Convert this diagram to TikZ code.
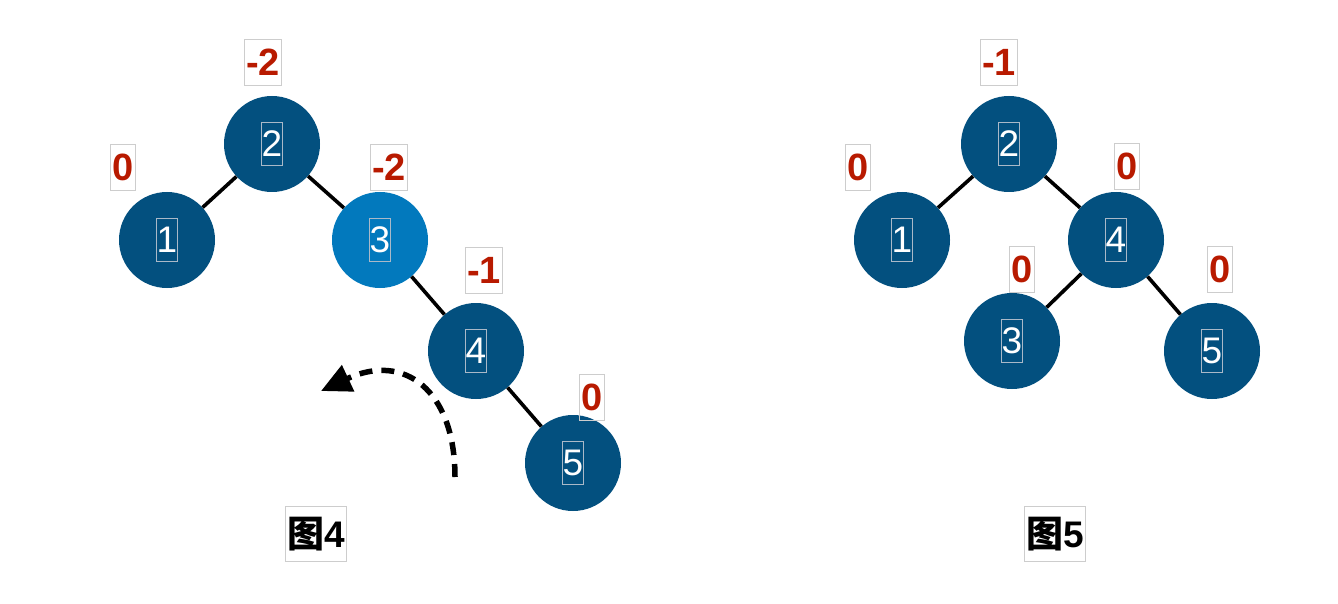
\documentclass[tikz,border=0pt]{standalone}
\usepackage{fontspec}
\setmainfont{Liberation Sans}
\newfontfamily\cjk{Noto Sans CJK SC}
\usetikzlibrary{arrows.meta}
\definecolor{nodeblue}{RGB}{3,80,127}
\definecolor{lightblue}{RGB}{2,121,189}
\definecolor{bfred}{RGB}{184,26,0}
\definecolor{boxgray}{RGB}{205,205,205}
\definecolor{numgray}{RGB}{170,185,200}
\tikzset{
  circ/.style={circle,fill=nodeblue,minimum size=96pt,inner sep=0pt},
  hlcirc/.style={circ,fill=lightblue},
  numbox/.style={draw=numgray,line width=0.8pt,inner sep=0pt,text=white,
    font=\fontsize{37}{44}\selectfont,text height=34pt,text depth=9pt},
  bf/.style={draw=boxgray,line width=1pt,inner xsep=2pt,inner ysep=0pt,text=bfred,
    font=\fontsize{38}{44}\selectfont\bfseries,text height=36pt,text depth=10pt},
  caption/.style={draw=boxgray,line width=1pt,inner xsep=1.5pt,inner ysep=0pt,text=black,
    font=\fontsize{37}{44}\selectfont\bfseries,minimum height=55pt},
  edge/.style={line width=3.6pt,black},
  rot/.style={line width=5.5pt,dash pattern=on 13pt off 9pt,
    -{Triangle[length=30pt,width=28pt]}}
}
\begin{document}
\begin{tikzpicture}[x=1pt,y=-1pt]
\useasboundingbox (0,0) rectangle (1338,604);
% left tree (fig 4)
\node[circ] (a2) at (272,144) {};
\node[circ] (a1) at (167,240) {};
\node[hlcirc] (a3) at (380,240) {};
\node[circ] (a4) at (476,351) {};
\node[circ] (a5) at (573,463) {};
\foreach \n in {1,...,5} {\node[numbox] (an\n) at (a\n) {\n};}
\draw[edge] (a2) -- (a1);
\draw[edge] (a2) -- (a3);
\draw[edge] (a3) -- (a4);
\draw[edge] (a4) -- (a5);
\node[bf] (ab2) at (263,63) {-2};
\node[bf] (ab1) at (123,168) {0};
\node[bf] (ab3) at (389,168) {-2};
\node[bf] (ab4) at (484,270) {-1};
\node[bf] (ab5) at (592,397) {0};
\coordinate (rs) at (455,477);
\coordinate (re) at (321,391);
\draw[rot] (rs) .. controls (455,390) and (404,352) .. (re);
\node[caption] (c4) at (316,534) {{\cjk 图}4};
% right tree (fig 5)
\node[circ] (b2) at (1009,144) {};
\node[circ] (b1) at (902,240) {};
\node[circ] (b4) at (1116,240) {};
\node[circ] (b3) at (1012,341) {};
\node[circ] (b5) at (1212,351) {};
\foreach \n in {1,...,5} {\node[numbox] (bn\n) at (b\n) {\n};}
\draw[edge] (b2) -- (b1);
\draw[edge] (b2) -- (b4);
\draw[edge] (b4) -- (b3);
\draw[edge] (b4) -- (b5);
\node[bf] (bb2) at (999,63) {-1};
\node[bf] (bb1) at (858,168) {0};
\node[bf] (bb4) at (1127,167) {0};
\node[bf] (bb3) at (1022,269) {0};
\node[bf] (bb5) at (1220,269) {0};
\node[caption] (c5) at (1055,534) {{\cjk 图}5};
\end{tikzpicture}
\end{document}
